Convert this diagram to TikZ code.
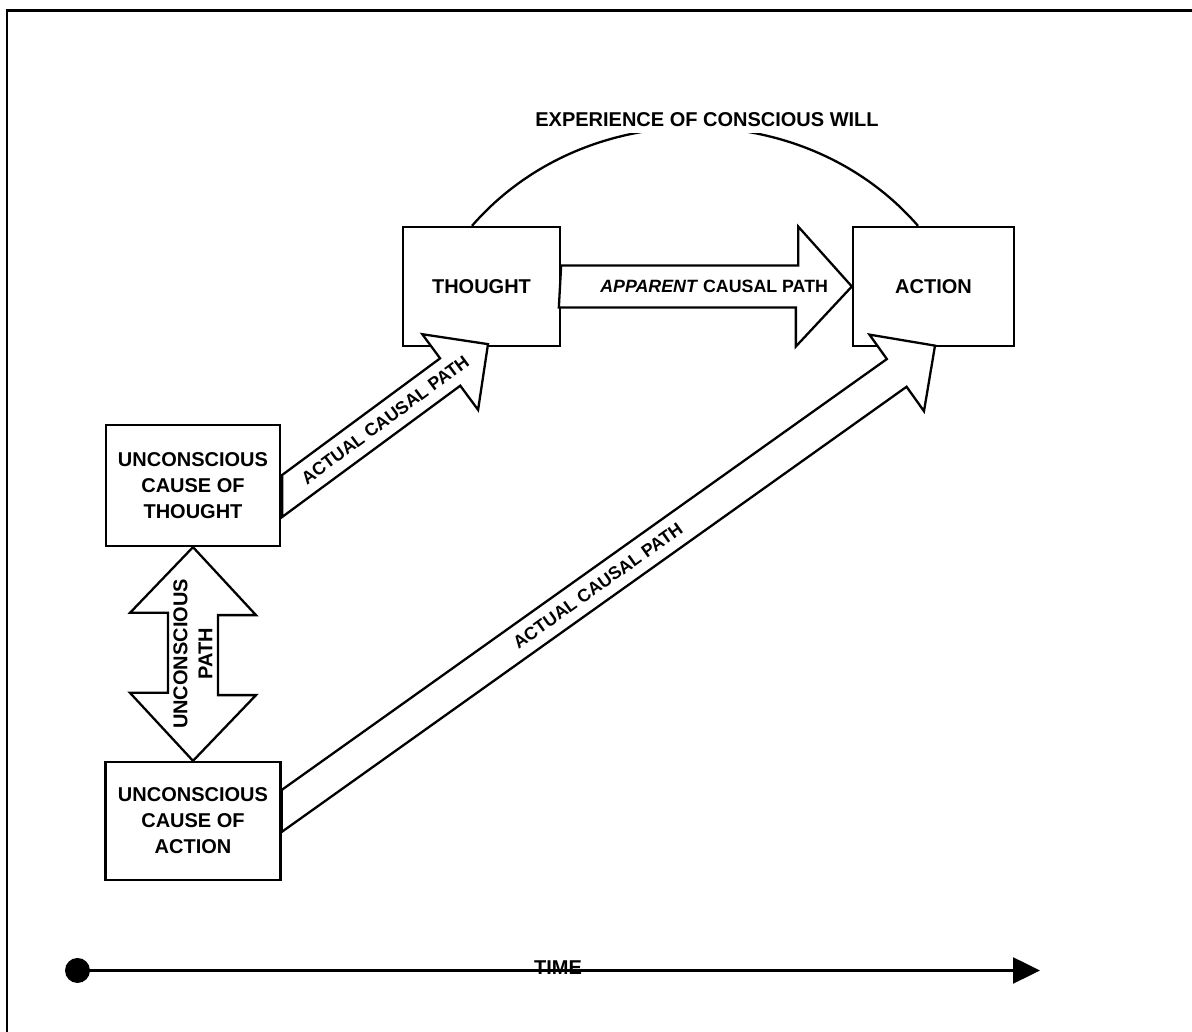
\documentclass[tikz,border=0pt]{standalone}
\usepackage{fontspec}
\setmainfont{Liberation Sans}
\usepackage{tikz}
\usetikzlibrary{calc}
\usetikzlibrary{positioning}
\usetikzlibrary{arrows.meta}

% block arrow from a tail (cut upright) to a tip
\newcommand{\fatarrow}[2]{%
  \coordinate (hb) at ($(#2)!47pt!(#1)$);
  \draw[fat] ($(#1)+(0,21)$) -- ($(hb)!17pt!90:(#2)$) -- ($(hb)!47pt!90:(#2)$) -- (#2)
     -- ($(hb)!47pt!-90:(#2)$) -- ($(hb)!17pt!-90:(#2)$) -- ($(#1)+(0,-21)$) -- cycle;
}

\begin{document}
\begin{tikzpicture}[
            x = 1pt, y = 1pt, % one unit per pixel
            line width = 2.3pt, % line style
            font = \fontsize{20}{26}\selectfont\bfseries
        ]

        \tikzstyle{box}=[
            draw,
            fill = white,
            align = center,
            inner sep = 0pt
        ]
        \tikzstyle{fat}=[draw, fill = white]
        \tikzstyle{lbl}=[font = \fontsize{17.8}{22}\selectfont\bfseries]

        \useasboundingbox (0,0) rectangle (1192,1032);
        \draw[line width = 2.5pt] (7,0) -- (7,1021.5) -- (1192,1021.5);

	% conscious level
        \node[box, minimum width = 157pt, minimum height = 119pt] (T) at (481.5,745.5) {THOUGHT};
        \node[box, minimum width = 161pt, minimum height = 119pt] (A) [right of = T, node distance = 452pt] {ACTION};

        \coordinate (c1) at ($(T.north)+(-9.5,0)$);
        \coordinate (c2) at ($(A.north)+(-15.5,0)$);
        \draw (c1) to[bend left = 49] (c2);
        \node[fill = white, inner sep = 6pt] (W) at (707,912.5) {EXPERIENCE OF CONSCIOUS WILL};

        \draw[fat] ($(T.east)+(0,21)$) -- ++(237,0) -- ++(0,39) -- (A.west) -- ++(-56,-60) -- ++(0,39) -- ++(-237,0) -- cycle;
        \node[lbl] (AP) at ($(T.east)+(153,0)$) {\textit{APPARENT} CAUSAL PATH};

	% unconscious level
        \node[box, minimum width = 174pt, minimum height = 121pt] (UT) at (193,546.5) {UNCONSCIOUS\\CAUSE OF\\THOUGHT};
        \node[box, minimum width = 175pt, minimum height = 118pt] (UA) [below of = UT, node distance = 335.5pt] {UNCONSCIOUS\\CAUSE OF\\ACTION};

        \draw[fat] (UT.south) -- ++(63,-68) -- ++(-38,0) -- ++(0,-80) -- ++(38,0) -- (UA.north)
            -- ++(-63,68) -- ++(38,0) -- ++(0,80) -- ++(-38,0) -- cycle;
        \node[rotate = 90, align = center, font = \fontsize{20}{25}\selectfont\bfseries] (UP) at ($(UT.south)!0.5!(UA.north)$) {UNCONSCIOUS\\PATH};

         % actual paths
        \coordinate (s1) at ($(UT.east)+(1,-10.5)$);
        \coordinate (e1) at ($(T.south)+(6.5,3)$);
        \fatarrow{s1}{e1}
        \path (s1) -- (e1) node[lbl, pos = 0.5, sloped] {ACTUAL CAUSAL PATH};

        \coordinate (s2) at ($(UA.east)+(0,10)$);
        \coordinate (e2) at ($(A.south)+(1.5,1.5)$);
        \fatarrow{s2}{e2}
        \path (s2) -- (e2) node[lbl, pos = 0.484, sloped] {ACTUAL CAUSAL PATH};

         % time
        \node[circle, fill, inner sep = 0pt, minimum size = 25pt] (T0) at (77.5,61.5) {};
        \coordinate (T1) at (1040,61.5);
        \draw[line width = 2.5pt, -{Triangle[length = 27pt, width = 26pt]}] (T0.center) -- (T1);
        \node (TM) at (558,64.5) {TIME};

\end{tikzpicture}
\end{document}
